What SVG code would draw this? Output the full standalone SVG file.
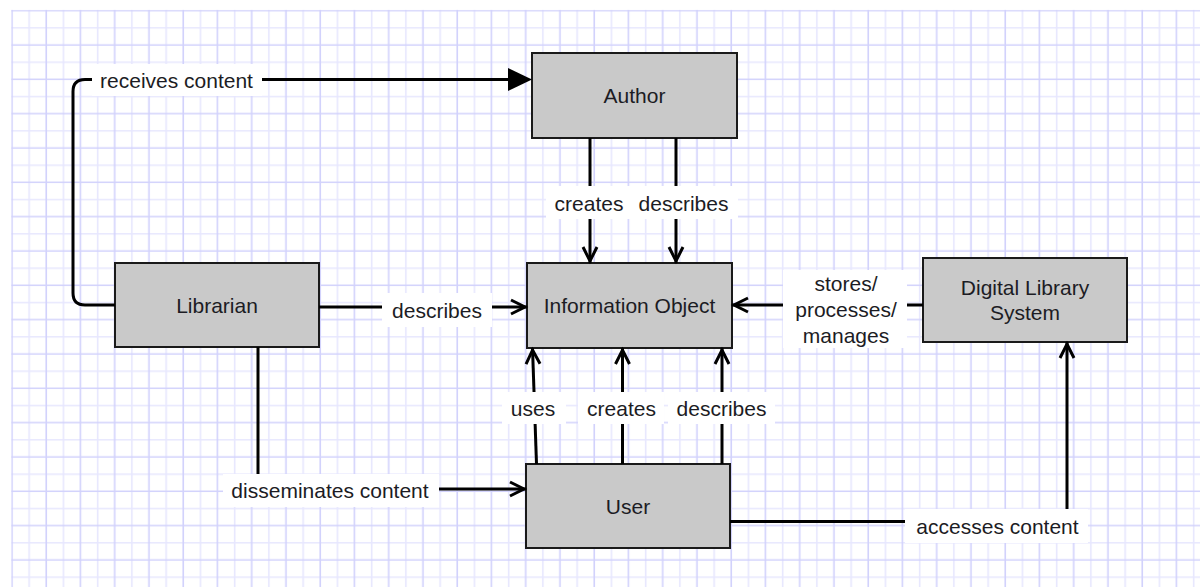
<svg xmlns="http://www.w3.org/2000/svg" width="1200" height="587" viewBox="0 0 1200 587">
  <style>
    .node rect { fill: #c9c9c9; stroke: #1a1a1a; stroke-width: 2; }
    text { font-family: "Liberation Sans", Arial, sans-serif; font-size: 21px; fill: #1c1c24; text-anchor: middle; dominant-baseline: central; }
    .edge { fill: none; stroke: #000; stroke-width: 3; }
    .lbl rect { fill: #fff; }
  </style>
  <defs>
    <pattern id="grid" x="-13.69" y="-15.05" width="34.25" height="34.33" patternUnits="userSpaceOnUse">
      <path d="M8.56,0 V34.33 M0,8.58 H34.25" stroke="#e7e7fe" stroke-width="1.6" fill="none"/>
      <path d="M25.69,0 V34.33 M0,25.75 H34.25" stroke="#d2d2fc" stroke-width="1.6" fill="none"/>
    </pattern>
    <marker id="open" viewBox="-20 -10 22 20" refX="0" refY="0" markerWidth="22" markerHeight="20" orient="auto" markerUnits="userSpaceOnUse">
      <path d="M-16,-7 L-2,0 L-16,7" fill="none" stroke="#000" stroke-width="3"/>
    </marker>
    <marker id="block" viewBox="0 -12 25 24" refX="0" refY="0" markerWidth="25" markerHeight="24" orient="auto" markerUnits="userSpaceOnUse">
      <path d="M0,-11.5 L24,0 L0,11.5 Z" fill="#000"/>
    </marker>
  </defs>

  <!-- background and paper grid -->
  <rect width="1200" height="587" fill="#fff"/>
  <rect x="11.2" y="9.9" width="1188.8" height="577.1" fill="url(#grid)"/>

  <!-- nodes -->
  <g id="author" class="node">
    <rect x="532" y="53" width="205" height="85"/>
    <text x="634.5" y="95.5">Author</text>
  </g>
  <g id="information-object" class="node">
    <rect x="527" y="263" width="205" height="85"/>
    <text x="629.5" y="305.5">Information Object</text>
  </g>
  <g id="librarian" class="node">
    <rect x="115" y="263" width="204" height="84"/>
    <text x="217" y="305">Librarian</text>
  </g>
  <g id="digital-library-system" class="node">
    <rect x="923" y="258" width="204" height="84"/>
    <text x="1025" y="287">Digital Library</text>
    <text x="1025" y="312">System</text>
  </g>
  <g id="user" class="node">
    <rect x="526" y="464" width="204" height="84"/>
    <text x="628" y="506">User</text>
  </g>

  <!-- connectors -->
  <g id="connectors">
    <path class="edge" d="M115,305 H85 Q73,305 73,293 V91.5 Q73,79.5 85,79.5 H508" marker-end="url(#block)"/>
    <path class="edge" d="M590,138 V263" marker-end="url(#open)"/>
    <path class="edge" d="M676,138 V263" marker-end="url(#open)"/>
    <path class="edge" d="M319,307 H527" marker-end="url(#open)"/>
    <path class="edge" d="M923,305 H732" marker-end="url(#open)"/>
    <path class="edge" d="M536.5,464 L532.5,348" marker-end="url(#open)"/>
    <path class="edge" d="M622.5,464 V348" marker-end="url(#open)"/>
    <path class="edge" d="M722,464 V348" marker-end="url(#open)"/>
    <path class="edge" d="M258,347 V489 H526" marker-end="url(#open)"/>
    <path class="edge" d="M730,521.5 H1067 V342" marker-end="url(#open)"/>

    <g class="lbl">
      <rect x="92" y="64" width="170" height="32"/>
      <text x="176.5" y="80">receives content</text>
    </g>
    <g class="lbl">
      <rect x="546" y="186" width="88" height="33"/>
      <text x="589" y="203">creates</text>
    </g>
    <g class="lbl">
      <rect x="630" y="186" width="108" height="33"/>
      <text x="683.5" y="203">describes</text>
    </g>
    <g class="lbl">
      <rect x="382" y="293" width="110" height="34"/>
      <text x="437" y="310">describes</text>
    </g>
    <g class="lbl">
      <rect x="783" y="270" width="124" height="78"/>
      <text x="846" y="283">stores/</text>
      <text x="846" y="309">processes/</text>
      <text x="846" y="335">manages</text>
    </g>
    <g class="lbl">
      <rect x="502" y="392" width="64" height="32"/>
      <text x="533" y="408">uses</text>
    </g>
    <g class="lbl">
      <rect x="578" y="392" width="86" height="32"/>
      <text x="621.5" y="408">creates</text>
    </g>
    <g class="lbl">
      <rect x="668" y="392" width="107" height="32"/>
      <text x="721.5" y="408">describes</text>
    </g>
    <g class="lbl">
      <rect x="223" y="474" width="216" height="33"/>
      <text x="330" y="490">disseminates content</text>
    </g>
    <g class="lbl">
      <rect x="905" y="509" width="183" height="34"/>
      <text x="997.5" y="526.5">accesses content</text>
    </g>
  </g>
</svg>
